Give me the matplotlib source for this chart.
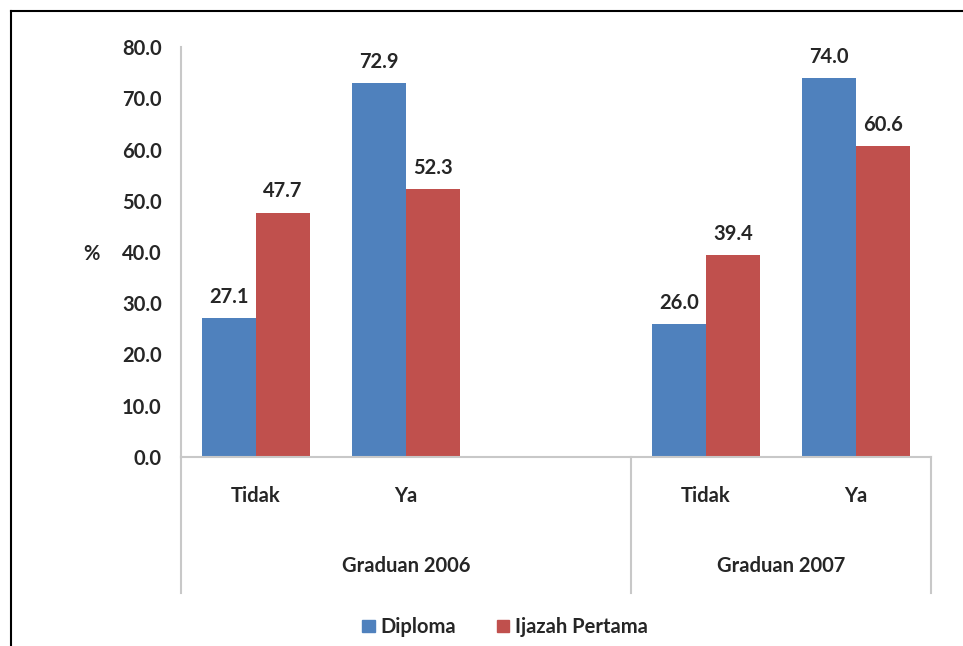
import matplotlib.pyplot as plt
from matplotlib.patches import Patch
from matplotlib.lines import Line2D
import matplotlib.transforms as mtransforms

plt.rcParams['font.family'] = ['Lato', 'DejaVu Sans']

# slots: 0,1 = Graduan 2006, 2 = empty, 3,4 = Graduan 2007
slots = [0, 1, 3, 4]
sub_labels = ['Tidak', 'Ya', 'Tidak', 'Ya']
groups = ['Graduan 2006', 'Graduan 2007']
group_centers = [1, 3.5]
group_edges = [-0.5, 2.5, 4.5]
diploma = [27.1, 72.9, 26.0, 74.0]
ijazah = [47.7, 52.3, 39.4, 60.6]
series_names = ['Diploma', 'Ijazah Pertama']
colors = ['#4F81BD', '#C0504D']
yticks = [0, 10, 20, 30, 40, 50, 60, 70, 80]

txt = '#262626'
fs = 14.5
fig = plt.figure(figsize=(9.63, 6.46), dpi=100)
ax = fig.add_axes([0.188, 0.2926, 0.7788, 0.6346])

w = 0.36
b1 = ax.bar([s - w / 2 for s in slots], diploma, w, color=colors[0])
b2 = ax.bar([s + w / 2 for s in slots], ijazah, w, color=colors[1])
for bars, vals in [(b1, diploma), (b2, ijazah)]:
    for r, v in zip(bars, vals):
        ax.annotate(f'{v:.1f}', (r.get_x() + r.get_width() / 2, v),
                    xytext=(0, 8), textcoords='offset points',
                    ha='center', va='bottom', fontsize=fs,
                    fontweight='bold', color=txt)

ax.set_xlim(-0.5, 4.5)
ax.set_ylim(0, 80)
ax.set_yticks(yticks)
ax.set_yticklabels([f'{t:.1f}' for t in yticks], fontsize=fs,
                   fontweight='bold', color=txt)
ax.set_xticks(slots)
ax.set_xticklabels(sub_labels, fontsize=fs, fontweight='bold', color=txt)
ax.tick_params(axis='y', length=0, pad=14)
ax.tick_params(axis='x', length=0, pad=21)
ax.set_ylabel('%', rotation=0, fontsize=fs, fontweight='bold', color=txt,
              labelpad=0)
ax.yaxis.set_label_coords(-0.12, 0.47)

for s in ['top', 'right']:
    ax.spines[s].set_visible(False)
for s in ['left', 'bottom']:
    ax.spines[s].set_color('#c8c8c8')
    ax.spines[s].set_linewidth(1.5)

trans = mtransforms.blended_transform_factory(ax.transData, ax.transAxes)
for e in group_edges:
    ax.plot([e, e], [0, -0.332], transform=trans, color='#c8c8c8',
            lw=1.5, clip_on=False)
for g, c in zip(groups, group_centers):
    ax.text(c, -0.266, g, transform=trans, ha='center', va='center',
            fontsize=fs, fontweight='bold', color=txt)

handles = [Patch(color=c, label=n) for c, n in zip(colors, series_names)]
leg = fig.legend(handles=handles, loc='center', ncol=2, frameon=False,
                 bbox_to_anchor=(505 / 963, 1 - 627 / 646),
                 handlelength=0.6, handleheight=0.6, handletextpad=0.3,
                 columnspacing=2.0, prop={'size': fs, 'weight': 'bold'})
for t in leg.get_texts():
    t.set_color(txt)

# outer frame (cropped at right and bottom)
fig.add_artist(Line2D([11 / 963, 1.0], [1 - 11 / 646] * 2, color='black', lw=1.5))
fig.add_artist(Line2D([11 / 963] * 2, [0, 1 - 11 / 646], color='black', lw=1.5))

fig.savefig('out.png', dpi=100)
